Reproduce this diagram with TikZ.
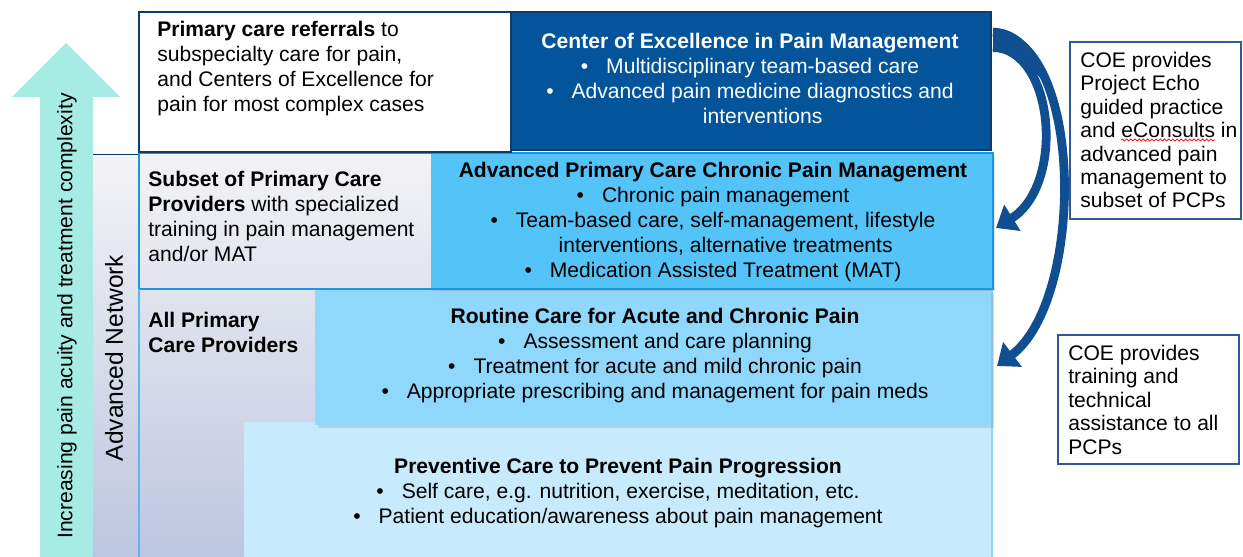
\documentclass[tikz,border=0pt]{standalone}
\usepackage{fontspec}
\setmainfont{Liberation Sans}
\usetikzlibrary{arrows.meta,shadows,decorations.pathmorphing}

\definecolor{coeblue}{RGB}{4,84,156}
\definecolor{coeline}{RGB}{12,60,108}
\definecolor{subblue}{RGB}{84,196,248}
\definecolor{subline}{RGB}{28,150,226}
\definecolor{routblue}{RGB}{143,215,251}
\definecolor{prevblue}{RGB}{199,235,252}
\definecolor{upteal}{RGB}{166,236,229}
\definecolor{bandtop}{RGB}{243,243,245}
\definecolor{bandbot}{RGB}{189,198,224}
\definecolor{curveblue}{RGB}{14,78,145}
\definecolor{noteline}{RGB}{47,88,155}

\newcommand\dotitem{\textbullet\hspace{0.85em}}

\begin{document}
\begin{tikzpicture}[x=0.02cm, y=-0.02cm,
		every node/.style={inner sep=0pt, font=\fontsize{12}{14.2}\selectfont},
		lefttext/.style={anchor=north west, align=left},
		midtext/.style={anchor=north, align=center},
		notetext/.style={anchor=north west, align=left, font=\fontsize{12}{13.3}\selectfont},
		curve/.style={draw=curveblue, line width=5pt, -{Triangle[width=17pt, length=11pt]}}]
	\useasboundingbox (0,0) rectangle (1243,557);

	% acuity arrow
	\fill[upteal] (40,557) -- (40,97) -- (12,97) -- (66,43) -- (120,97) -- (93,97) -- (93,557) -- cycle;
	\node (acuity) [rotate=90] at (67,316) {Increasing pain acuity and treatment complexity};

	% advanced network band
	\shade[top color=bandtop, bottom color=bandbot] (93,154) rectangle (993,557);
	\draw[coeline] (93,154) -- (139,154);
	\node (network) [rotate=90, font=\fontsize{14}{16}\selectfont] at (114,358) {Advanced Network};

	% preventive care
	\fill[prevblue] (244,422) rectangle (993,557);
	\draw[routblue, line width=1.5pt] (992,289) -- (992,557);
	\node (prevent) [midtext] at (618,458) {\textbf{Preventive Care to Prevent Pain Progression}\\
		\dotitem Self care, e.g. nutrition, exercise, meditation, etc.\\
		\dotitem Patient education/awareness about pain management};

	% routine care
	\fill[routblue, drop shadow={shadow xshift=1.5pt, shadow yshift=-1.5pt, opacity=0.25}] (315,290) rectangle (991,425);
	\node (allpcp) [lefttext] at (148,312) {\textbf{All Primary}\\\textbf{Care Providers}};
	\node (routine) [midtext] at (655,308) {\textbf{Routine Care for Acute and Chronic Pain}\\
		\dotitem Assessment and care planning\\
		\dotitem Treatment for acute and mild chronic pain\\
		\dotitem Appropriate prescribing and management for pain meds};

	% advanced primary care
	\fill[subblue, drop shadow={shadow xshift=1pt, shadow yshift=-1.5pt, opacity=0.25}] (431,154) rectangle (993,288);
	\draw[subline, line width=1.5pt] (139,153) rectangle (993,289);
	\draw[subline!70, line width=1.5pt] (139,289) -- (139,557);
	\node (subset) [lefttext] at (148,171) {\textbf{Subset of Primary Care}\\
		\textbf{Providers} with specialized\\training in pain management\\and/or MAT};
	\node (advpc) [midtext] at (713,162) {\textbf{Advanced Primary Care Chronic Pain Management}\\
		\dotitem Chronic pain management\\
		\dotitem Team-based care, self-management, lifestyle\\
		\phantom{\dotitem}interventions, alternative treatments\\
		\dotitem Medication Assisted Treatment (MAT)};

	% top row
	\filldraw[fill=white, draw=coeline, line width=1.5pt] (139,12) rectangle (511,152);
	\filldraw[fill=coeblue, draw=coeline, line width=1.5pt] (511,12) rectangle (991,150);
	\node (refer) [lefttext] at (157,21) {\textbf{Primary care referrals} to\\
		subspecialty care for pain,\\and Centers of Excellence for\\pain for most complex cases};
	\node (coe) [midtext, text=white] at (750,33) {\textbf{Center of Excellence in Pain Management}\\
		\dotitem Multidisciplinary team-based care\\
		\dotitem Advanced pain medicine diagnostics and\\
		\phantom{\dotitem}interventions};

	% COE support arrows, widened where they leave the box
	\coordinate (coeA) at (993,47);
	\coordinate (coeB) at (993,32);
	\coordinate (subR) at (996,228);
	\coordinate (routR) at (997,366);
	\fill[curveblue] (993,28) .. controls (1022,28) and (1040,55) .. (1052,95)
		.. controls (1036,68) and (1015,52) .. (993,52) -- cycle;
	\draw[curve] (coeA) .. controls (1055,50) and (1065,185) .. (subR);
	\draw[curve] (coeB) .. controls (1085,40) and (1085,300) .. (routR);

	% notes
	\draw[noteline, line width=1.5pt, fill=white] (1070,42) rectangle (1241,219);
	\node (echo) [notetext] at (1080,52) {COE provides\\Project Echo\\guided practice\\
		and eConsults in\\advanced pain\\management to\\subset of PCPs};
	\coordinate (waveL) at (1121,140);
	\coordinate (waveR) at (1215,140);
	\draw[red, line width=0.4pt, decorate, decoration={snake, amplitude=0.6pt, segment length=2.4pt}] (waveL) -- (waveR);
	\draw[noteline, line width=1.5pt, fill=white] (1058,335) rectangle (1239,464);
	\node (train) [notetext] at (1068,345) {COE provides\\training and\\technical\\assistance to all\\PCPs};
\end{tikzpicture}
\end{document}
